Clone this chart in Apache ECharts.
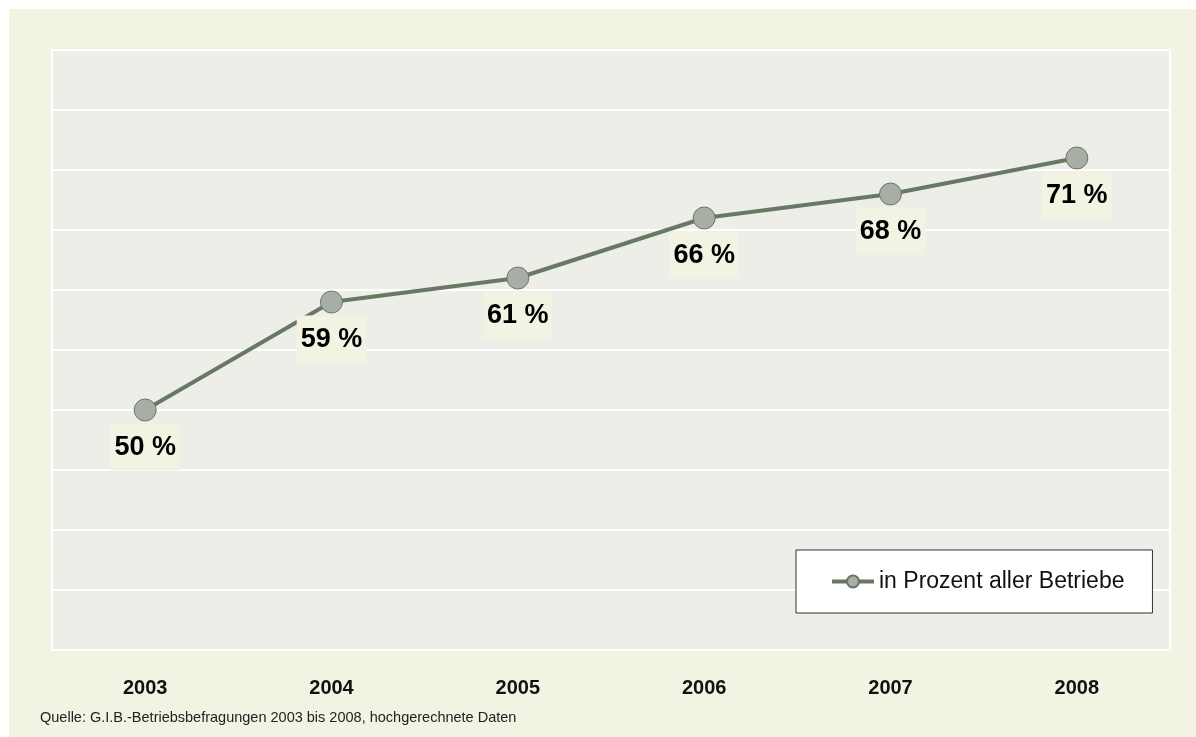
<!DOCTYPE html>
<html>
<head>
<meta charset="utf-8">
<script src="https://cdn.jsdelivr.net/npm/echarts@6/dist/echarts.min.js"></script>
<style>
  html, body { margin: 0; padding: 0; background: #ffffff; }
  #chart { width: 1196px; height: 737px; }
</style>
</head>
<body>
<div id="chart"></div>
<script>
// Anteil der Betriebe je Befragungsjahr
const years = ['2003', '2004', '2005', '2006', '2007', '2008'];
const shares = [50, 59, 61, 66, 68, 71];
const seriesName = 'in Prozent aller Betriebe';
const sourceNote = 'Quelle: G.I.B.-Betriebsbefragungen 2003 bis 2008, hochgerechnete Daten';

const FONT = '"Liberation Sans", Arial, sans-serif';
const chart = echarts.init(document.getElementById('chart'), null, { renderer: 'canvas' });

chart.setOption({
  backgroundColor: '#ffffff',
  animation: false,
  graphic: [
    {
      type: 'rect', z: -10, silent: true,
      shape: { x: 9, y: 9, width: 1187, height: 728 },
      style: { fill: '#f3f3e3' }
    },
    {
      type: 'text', left: 40, top: 710, silent: true,
      style: { text: sourceNote, font: '14.5px ' + FONT, fill: '#222222' }
    }
  ],
  grid: {
    left: 52, right: 26, top: 50, bottom: 87,
    show: true,
    backgroundColor: '#eceee7',
    borderColor: '#ffffff',
    borderWidth: 2
  },
  legend: {
    left: 796, top: 550,
    padding: [20, 28, 20, 34],
    backgroundColor: '#ffffff',
    borderColor: '#333333',
    borderWidth: 1,
    itemWidth: 42,
    itemHeight: 15,
    itemGap: 5,
    lineStyle: { width: 4 },
    textStyle: { fontFamily: FONT, fontSize: 23, color: '#111111' },
    data: [seriesName]
  },
  xAxis: {
    type: 'category',
    data: years,
    boundaryGap: true,
    axisLine: { show: false },
    axisTick: { show: false },
    splitLine: { show: false },
    axisLabel: {
      margin: 28,
      fontFamily: FONT,
      fontSize: 20,
      fontWeight: 'bold',
      color: '#111111'
    }
  },
  yAxis: {
    type: 'value',
    min: 30, max: 80, interval: 5,
    axisLine: { show: false },
    axisTick: { show: false },
    axisLabel: { show: false },
    splitLine: { lineStyle: { color: '#ffffff', width: 2 } }
  },
  series: [{
    name: seriesName,
    type: 'line',
    data: shares,
    symbol: 'circle',
    symbolSize: 22,
    lineStyle: { color: '#687864', width: 4 },
    itemStyle: { color: '#a8aea5', borderColor: '#687864', borderWidth: 1 },
    label: {
      show: true,
      position: 'bottom',
      distance: 2,
      formatter: p => p.value + ' %',
      fontFamily: FONT,
      fontSize: 27,
      fontWeight: 'bold',
      color: '#000000',
      backgroundColor: '#f3f3e3',
      lineHeight: 27,
      padding: [11, 4, 9, 4]
    }
  }]
});
</script>
</body>
</html>
